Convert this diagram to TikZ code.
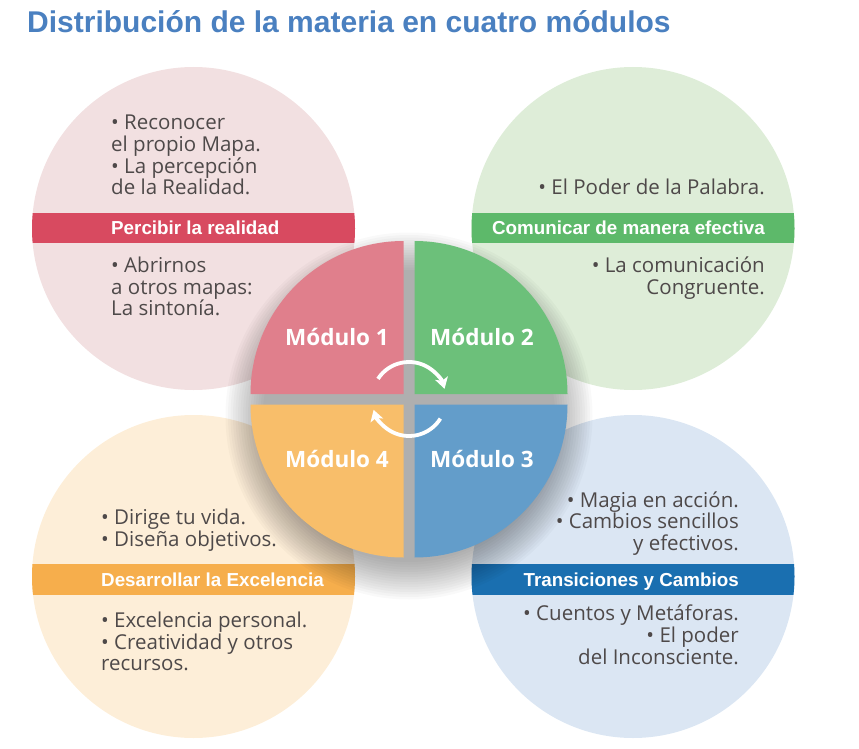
\documentclass[tikz,border=0pt]{standalone}
\usepackage{fontspec}
\setmainfont{Open Sans}
\newfontfamily\titlefont{Liberation Sans}
\usetikzlibrary{arrows.meta}
\definecolor{titleblue}{RGB}{74,128,192}
\definecolor{bodygray}{RGB}{78,73,73}
\definecolor{lpink}{RGB}{242,224,225}
\definecolor{lgreen}{RGB}{222,237,216}
\definecolor{lorange}{RGB}{253,238,216}
\definecolor{lblue}{RGB}{219,230,243}
\definecolor{bandred}{RGB}{216,74,96}
\definecolor{bandgreen}{RGB}{93,185,106}
\definecolor{bandorange}{RGB}{246,174,76}
\definecolor{bandblue}{RGB}{26,111,176}
\definecolor{qpink}{RGB}{224,127,140}
\definecolor{qgreen}{RGB}{108,192,122}
\definecolor{qblue}{RGB}{99,157,202}
\definecolor{qorange}{RGB}{248,190,106}
\tikzset{
  body/.style={font=\fontsize{20.5}{22}\selectfont, text=bodygray, inner sep=0pt},
  bandtxt/.style={font=\titlefont\bfseries\fontsize{18.8}{20}\selectfont, text=white, inner sep=0pt},
  modtxt/.style={font=\bfseries\fontsize{22.5}{24}\selectfont, text=white, inner sep=0pt},
  bigdisk/.style={circle, minimum size=323pt, inner sep=0pt, draw=none},
  turn/.style={white, line width=3.8pt, -{Stealth[length=11pt,width=13pt,inset=2.5pt]}}
}
\begin{document}
\begin{tikzpicture}[x=1pt,y=-1pt]
\useasboundingbox (0,0) rectangle (859,749);
% title
\node[font=\titlefont\bfseries\fontsize{30}{32}\selectfont, text=titleblue, anchor=base west, inner sep=0pt] (title) at (27,33) {Distribución de la materia en cuatro módulos};
% outer circles
\node[bigdisk, fill=lpink] (ctl) at (193.5,228.5) {};
\node[bigdisk, fill=lgreen] (ctr) at (633,228.5) {};
\node[bigdisk, fill=lorange] (cbl) at (193.5,576.5) {};
\node[bigdisk, fill=lblue] (cbr) at (633,576.5) {};
% bands
\begin{scope}
  \clip (193.5,228.5) circle[radius=161.5pt];
  \fill[bandred] (30,213) rectangle (357,243);
\end{scope}
\begin{scope}
  \clip (633,228.5) circle[radius=161.5pt];
  \fill[bandgreen] (470,213) rectangle (797,243);
\end{scope}
\begin{scope}
  \clip (193.5,576.5) circle[radius=161.5pt];
  \fill[bandorange] (30,564) rectangle (357,595);
\end{scope}
\begin{scope}
  \clip (633,576.5) circle[radius=161.5pt];
  \fill[bandblue] (470,564) rectangle (797,595);
\end{scope}
% band labels
\node[bandtxt, anchor=base west] (btl) at (111,234) {Percibir la realidad};
\node[bandtxt, anchor=base east] (btr) at (765,234) {Comunicar de manera efectiva};
\node[bandtxt, anchor=base west] (bbl) at (101,586) {Desarrollar la Excelencia};
\node[bandtxt, anchor=base east] (bbr) at (739,586) {Transiciones y Cambios};
% top-left texts
\node[body, anchor=base west] (tl1) at (111,129) {• Reconocer};
\node[body, anchor=base west] (tl2) at (111,151) {el propio Mapa.};
\node[body, anchor=base west] (tl3) at (111,173) {• La percepción};
\node[body, anchor=base west] (tl4) at (111,194) {de la Realidad.};
\node[body, anchor=base west] (tl5) at (111,272) {• Abrirnos};
\node[body, anchor=base west] (tl6) at (111,294) {a otros mapas:};
\node[body, anchor=base west] (tl7) at (111,315) {La sintonía.};
% top-right texts
\node[body, anchor=base east] (tr1) at (765,194) {• El Poder de la Palabra.};
\node[body, anchor=base east] (tr2) at (765,272) {• La comunicación};
\node[body, anchor=base east] (tr3) at (765,294) {Congruente.};
% bottom-left texts
\node[body, anchor=base west] (bl1) at (101,524) {• Dirige tu vida.};
\node[body, anchor=base west] (bl2) at (101,546) {• Diseña objetivos.};
\node[body, anchor=base west] (bl3) at (101,627) {• Excelencia personal.};
\node[body, anchor=base west] (bl4) at (101,649) {• Creatividad y otros};
\node[body, anchor=base west] (bl5) at (101,670) {recursos.};
% bottom-right texts
\node[body, anchor=base east] (br1) at (739,507) {• Magia en acción.};
\node[body, anchor=base east] (br2) at (739,528) {• Cambios sencillos};
\node[body, anchor=base east] (br3) at (739,550) {y efectivos.};
\node[body, anchor=base east] (br4) at (739,620) {• Cuentos y Metáforas.};
\node[body, anchor=base east] (br5) at (739,642) {• El poder};
\node[body, anchor=base east] (br6) at (739,664) {del Inconsciente.};
% shadow of the central disk
\foreach \r in {146,148.5,...,184}
  \fill[black, opacity=0.022] (409,416) circle[radius=\r pt];
% quadrants
\fill[qpink] (403.5,394) -- ++(-153pt,0pt) arc[start angle=180, end angle=90, radius=153pt] -- cycle;
\fill[qgreen] (414.5,394) -- ++(153pt,0pt) arc[start angle=0, end angle=90, radius=153pt] -- cycle;
\fill[qblue] (414.5,404.5) -- ++(153pt,0pt) arc[start angle=0, end angle=-90, radius=153pt] -- cycle;
\fill[qorange] (403.5,404.5) -- ++(-153pt,0pt) arc[start angle=180, end angle=270, radius=153pt] -- cycle;
% module labels
\node[modtxt, anchor=base] (m1) at (337,345) {Módulo 1};
\node[modtxt, anchor=base] (m2) at (482,345) {Módulo 2};
\node[modtxt, anchor=base] (m4) at (337,467) {Módulo 4};
\node[modtxt, anchor=base] (m3) at (482,467) {Módulo 3};
% cycle arrows
\coordinate (ctr0) at (409,399);
\draw[turn] ([shift={(147:37pt)}]ctr0) arc[start angle=147, end angle=16, radius=37pt];
\draw[turn] ([shift={(-32:37pt)}]ctr0) arc[start angle=-32, end angle=-163, radius=37pt];
\end{tikzpicture}
\end{document}
